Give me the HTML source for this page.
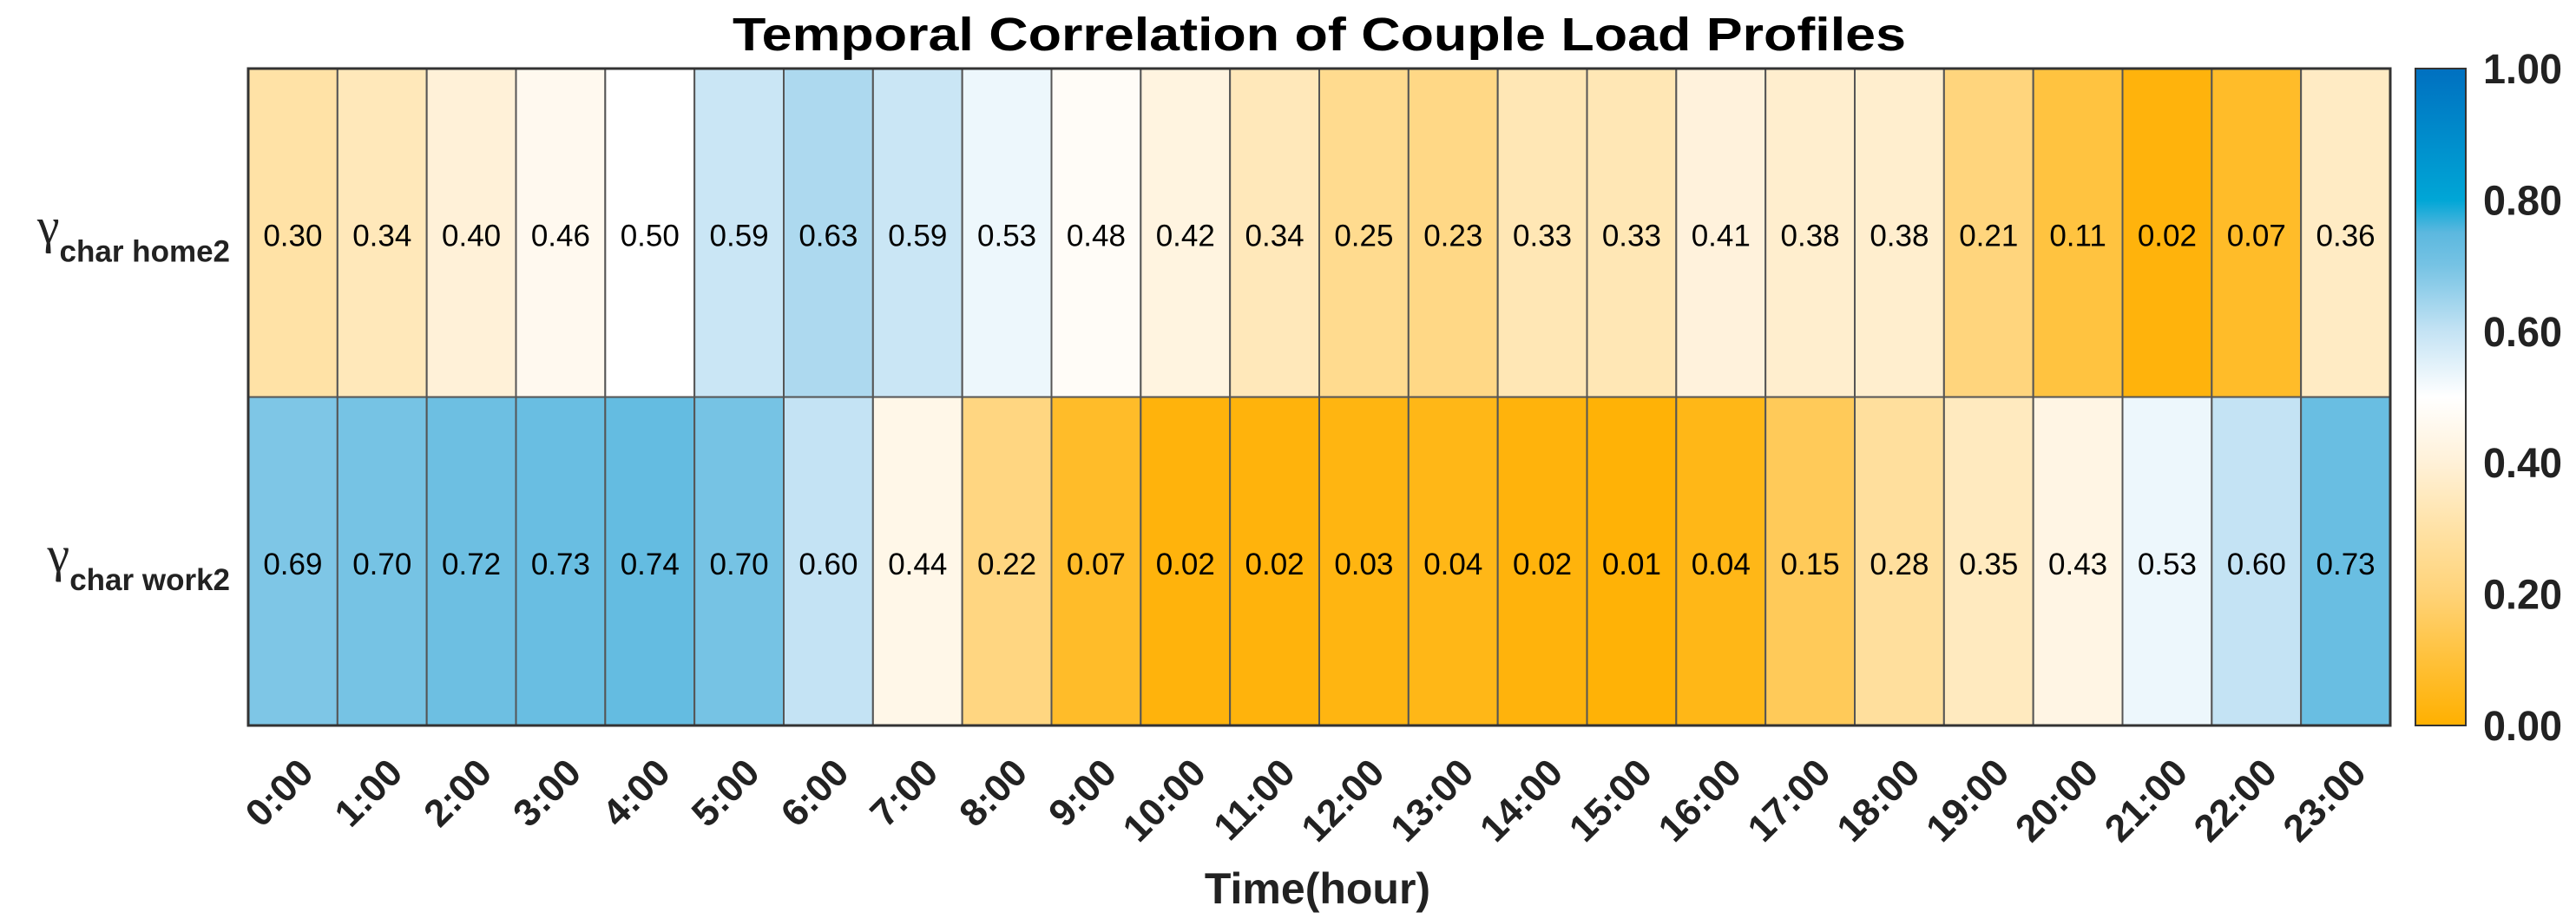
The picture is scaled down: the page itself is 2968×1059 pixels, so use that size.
<!DOCTYPE html>
<html><head><meta charset="utf-8"><style>
html,body{margin:0;padding:0;background:#fff;}
svg{display:block;font-family:"Liberation Sans",sans-serif;}
</style></head><body>
<svg id="chart" width="2968" height="1059" viewBox="0 0 2968 1059" xmlns="http://www.w3.org/2000/svg">
<defs>
<linearGradient id="cbgrad" x1="0" y1="1" x2="0" y2="0">
<stop offset="0" stop-color="#FFB000"/>
<stop offset="0.1" stop-color="#FFC13A"/>
<stop offset="0.2" stop-color="#FFD378"/>
<stop offset="0.3" stop-color="#FFE2A6"/>
<stop offset="0.4" stop-color="#FFF1D8"/>
<stop offset="0.5" stop-color="#FFFFFF"/>
<stop offset="0.6" stop-color="#C4E3F4"/>
<stop offset="0.7" stop-color="#76C3E4"/>
<stop offset="0.75" stop-color="#5CB8DF"/>
<stop offset="0.8" stop-color="#00A6D6"/>
<stop offset="1" stop-color="#0070C0"/>
</linearGradient>
</defs>
<text x="1520" y="58" text-anchor="middle" font-size="54" font-weight="bold" fill="#000" textLength="1352" lengthAdjust="spacingAndGlyphs">Temporal Correlation of Couple Load Profiles</text>
<g id="cells"></g>
<g id="labels"></g>
<rect x="2783" y="79" width="58" height="757" fill="url(#cbgrad)" stroke="#333" stroke-width="2"/>
<g id="cbticks"></g>
<text x="1518" y="1041" text-anchor="middle" font-size="50" font-weight="bold" fill="#222">Time(hour)</text>
</svg>
<script>
const hours = ["0:00","1:00","2:00","3:00","4:00","5:00","6:00","7:00","8:00","9:00","10:00","11:00","12:00","13:00","14:00","15:00","16:00","17:00","18:00","19:00","20:00","21:00","22:00","23:00"];
const rowNames = ["char home2","char work2"];
const home2 = [0.30,0.34,0.40,0.46,0.50,0.59,0.63,0.59,0.53,0.48,0.42,0.34,0.25,0.23,0.33,0.33,0.41,0.38,0.38,0.21,0.11,0.02,0.07,0.36];
const work2 = [0.69,0.70,0.72,0.73,0.74,0.70,0.60,0.44,0.22,0.07,0.02,0.02,0.03,0.04,0.02,0.01,0.04,0.15,0.28,0.35,0.43,0.53,0.60,0.73];
const cbTicks = [0,0.2,0.4,0.6,0.8,1.0];

const NS="http://www.w3.org/2000/svg";
const X0=286,X1=2754,Y0=79,Y1=836;
const cw=(X1-X0)/hours.length;
const rows=[home2,work2];
const rh=(Y1-Y0)/rows.length;
function xPos(i){return X0+i*cw;}
function yPos(r){return Y0+r*rh;}
function cbY(v){return Y1-(v)*(Y1-Y0);}
const stops=[[0,[255,176,0]],[0.1,[255,193,58]],[0.2,[255,211,120]],[0.3,[255,226,166]],[0.4,[255,241,216]],[0.5,[255,255,255]],[0.6,[196,227,244]],[0.7,[118,195,228]],[0.75,[96,186,224]],[0.8,[0,166,214]],[1,[0,112,192]]];
function color(v){
  for(let i=0;i<stops.length-1;i++){
    const a=stops[i],b=stops[i+1];
    if(v<=b[0]){const t=(v-a[0])/(b[0]-a[0]);
      const c=a[1].map((x,k)=>Math.round(x+(b[1][k]-x)*t));
      return `rgb(${c[0]},${c[1]},${c[2]})`;}
  }
  return "rgb(0,112,192)";
}
function mk(tag,attrs,parent,txt){const e=document.createElementNS(NS,tag);for(const k in attrs)e.setAttribute(k,attrs[k]);if(txt!==undefined)e.textContent=txt;parent.appendChild(e);return e;}
const cells=document.getElementById('cells');
const labels=document.getElementById('labels');
rows.forEach((vals,r)=>{
  vals.forEach((v,i)=>{
    const rc=mk('rect',{x:xPos(i),y:yPos(r),width:cw,height:rh,fill:color(v),stroke:'#555','stroke-width':2},cells);
    
    
    const t=mk('text',{x:xPos(i)+cw/2,y:yPos(r)+rh/2+15,'text-anchor':'middle','font-size':35,fill:'#000'},cells,v.toFixed(2));
    
    
  });
  const g=mk('text',{x:265,y:yPos(r)+rh/2+33,'text-anchor':'end',fill:'#222'},labels);
  
  
  mk('tspan',{'font-size':58,'font-family':'"Liberation Serif",serif',dy:-22},g,'γ');
  mk('tspan',{'font-size':35,'font-weight':'bold',dy:22},g,rowNames[r]);
});
mk('rect',{x:X0,y:Y0,width:X1-X0,height:Y1-Y0,fill:'none',stroke:'#333','stroke-width':3},cells);
hours.forEach((h,i)=>{
  const cx=xPos(i)+cw/2+26, cy=893;
  const t=mk('text',{x:cx,y:cy,'text-anchor':'end','font-size':44,'font-weight':'bold',fill:'#222',transform:`rotate(-45 ${cx} ${cy})`},labels,h);
  
  
});
const cbt=document.getElementById('cbticks');
cbTicks.forEach(v=>{
  const t=mk('text',{x:2861,y:cbY(v)+17,'font-size':48,'font-weight':'bold',fill:'#222',textLength:91,lengthAdjust:'spacingAndGlyphs'},cbt,v.toFixed(2));
  
  
});
</script>
</body></html>
